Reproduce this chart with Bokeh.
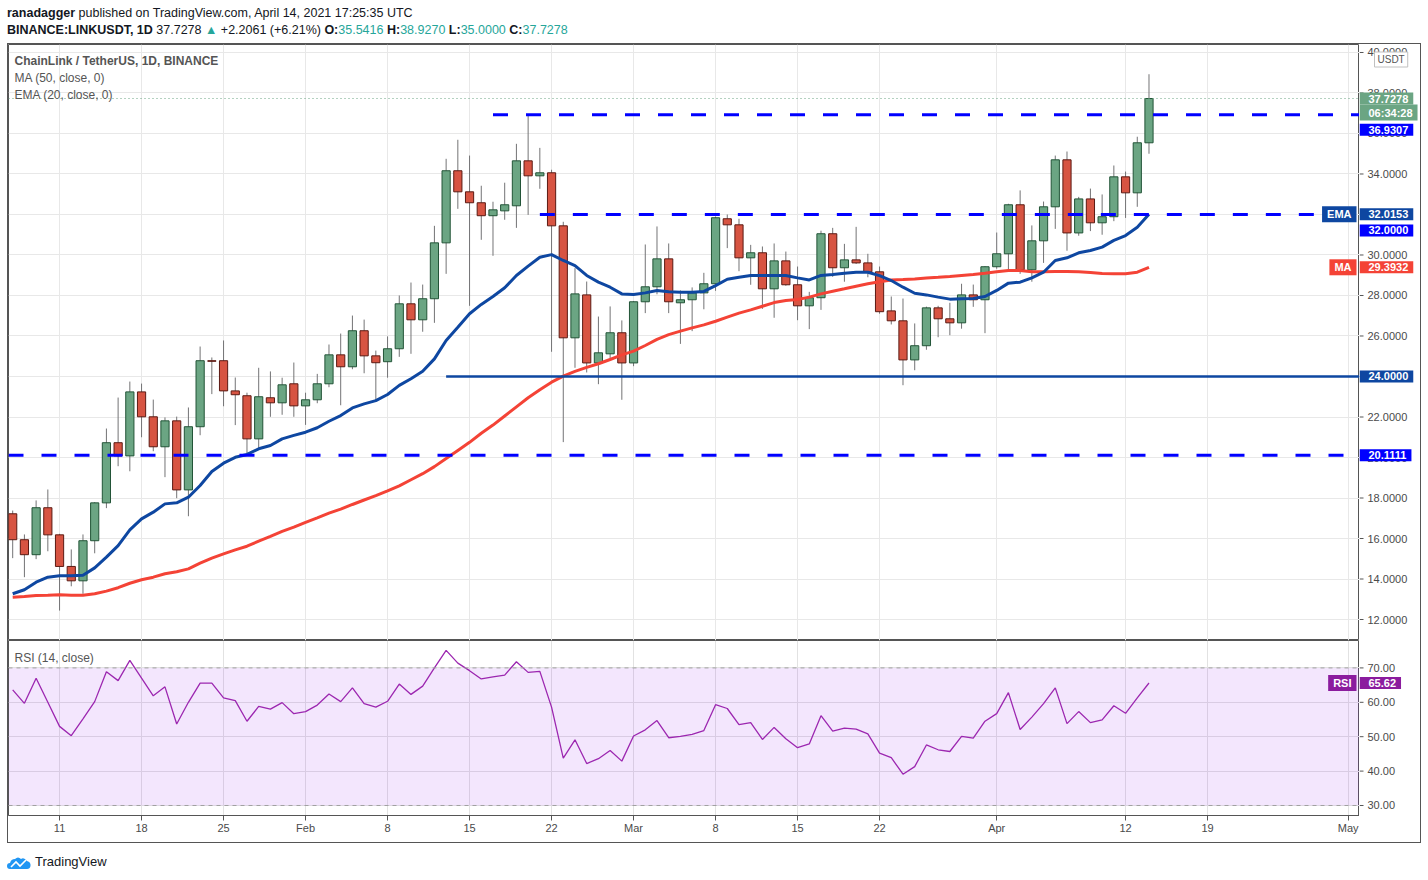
import pandas as pd
from bokeh.plotting import figure
from bokeh.models import (Range1d, FixedTicker, Span, Label,
                          BoxAnnotation, Div, ColumnDataSource, Grid)
from bokeh.layouts import column, row
from bokeh.core.properties import value
from bokeh.embed import file_html
from bokeh.resources import INLINE

# ---------------- data ----------------
start_date = "2021-01-07"
n_days = 98

opens = [17.22, 15.94, 15.20, 17.52, 16.18, 14.62, 13.91, 15.89, 17.76, 20.73,
         20.08, 23.24, 22.01, 20.53, 21.81, 18.40, 21.52, 24.78, 24.78, 23.29,
         23.05, 20.92, 22.95, 22.70, 23.64,
         22.55, 22.85, 23.64, 25.07, 24.48, 26.26, 25.02, 24.73, 25.37, 27.59,
         26.80, 27.84, 30.60, 34.16, 33.12, 32.58, 31.94, 32.18, 32.43, 34.65,
         33.91, 34.06, 31.44, 25.91, 28.03, 24.67, 25.12, 26.16,
         24.67, 27.69, 28.43, 29.81, 27.64, 27.79, 28.13, 28.58, 31.79, 31.49,
         29.86, 30.11, 28.33, 29.71, 28.53, 27.49, 27.89, 31.05, 29.37, 29.76,
         29.61, 29.17, 27.24, 26.75, 24.82, 25.52, 27.39, 26.85, 26.65, 28.03,
         27.79,
         29.42, 30.06, 32.48, 29.27, 30.70, 32.38, 34.70, 31.09, 32.77, 31.59,
         31.89, 33.86, 33.07, 35.5416]
highs = [17.38, 16.20, 17.88, 18.42, 16.23, 15.46, 16.20, 17.80, 21.43, 22.96,
         23.75, 23.65, 22.86, 21.98, 22.02, 22.47, 25.48, 24.94, 25.78, 23.95,
         23.20, 24.43, 24.25, 23.94, 24.69,
         23.20, 24.13, 25.58, 26.12, 27.01, 26.81, 25.28, 25.98, 28.00, 28.64,
         28.54, 31.44, 34.75, 35.69, 34.91, 33.42, 32.63, 33.57, 35.49, 36.92,
         35.29, 34.21, 31.64, 29.35, 28.69, 26.96, 27.46, 26.77,
         27.72, 30.52, 31.41, 30.57, 28.25, 28.40, 29.12, 31.90, 32.00, 31.79,
         30.50, 30.42, 30.57, 30.17, 29.43, 28.18, 31.20, 31.34, 30.55, 31.39,
         30.06, 29.43, 27.95, 27.85, 26.62, 27.45, 27.49, 27.64, 28.58, 28.54,
         29.45,
         31.11, 32.53, 33.19, 31.46, 32.64, 34.91, 35.11, 32.87, 33.28, 32.99,
         34.42, 34.12, 35.84, 38.9270]
lows = [15.03, 14.09, 14.98, 15.37, 12.44, 13.64, 13.27, 15.27, 17.50, 19.57,
        19.32, 21.00, 20.31, 19.03, 17.99, 17.10, 21.10, 23.13, 22.53, 21.60,
        20.18, 20.48, 22.01, 22.11, 22.01,
        21.61, 22.68, 23.47, 22.58, 24.36, 24.16, 22.80, 23.94, 24.97, 25.12,
        26.21, 26.65, 29.07, 32.28, 27.49, 30.75, 29.96, 31.74, 31.34, 31.98,
        33.27, 25.22, 20.76, 24.43, 24.20, 23.62, 24.82, 22.85,
        24.51, 27.13, 28.06, 27.13, 25.61, 26.24, 27.32, 28.23, 30.34, 29.20,
        28.53, 27.34, 26.90, 28.48, 26.78, 26.34, 27.29, 28.92, 28.68, 29.56,
        28.90, 27.10, 26.57, 23.57, 24.31, 25.32, 25.94, 26.04, 26.36, 27.44,
        26.14,
        29.32, 29.27, 29.07, 28.68, 29.61, 31.29, 30.21, 30.95, 31.18, 31.00,
        31.67, 31.83, 32.38, 35.0000]
closes = [15.94, 15.20, 17.52, 16.18, 14.62, 13.91, 15.89, 17.76, 20.73, 20.08,
          23.24, 22.01, 20.53, 21.81, 18.40, 21.52, 24.78, 24.75, 23.29, 23.10,
          20.92, 23.00, 22.70, 23.59, 22.55,
          22.85, 23.64, 25.07, 24.48, 26.26, 25.02, 24.68, 25.37, 27.59, 26.80,
          27.84, 30.60, 34.16, 33.12, 32.58, 31.94, 32.23, 32.48, 34.65, 33.91,
          34.06, 31.44, 25.91, 28.08, 24.67, 25.17, 26.16, 24.67,
          27.69, 28.43, 29.81, 27.69, 27.79, 28.13, 28.58, 31.84, 31.49, 29.86,
          30.11, 28.33, 29.71, 28.53, 27.49, 27.89, 31.05, 29.37, 29.76, 29.61,
          29.17, 27.20, 26.75, 24.82, 25.52, 27.39, 26.85, 26.65, 28.03, 27.79,
          29.42,
          30.06, 32.48, 29.27, 30.70, 32.38, 34.70, 31.09, 32.77, 31.59, 31.89,
          33.86, 33.07, 35.5416, 37.7278]

ema20 = [13.27, 13.47, 13.84, 14.09, 14.16, 14.16, 14.19, 14.55, 15.08, 15.65,
         16.43, 16.97, 17.30, 17.71, 17.76, 18.04, 18.62, 19.31, 19.72, 20.01,
         20.15, 20.43, 20.59, 20.92, 21.09,
         21.25, 21.47, 21.79, 22.07, 22.45, 22.65, 22.81, 23.11, 23.56, 23.89,
         24.26, 24.87, 25.78, 26.43, 27.10, 27.56, 27.95, 28.38, 28.99, 29.45,
         29.89, 30.02, 29.73, 29.48, 28.99, 28.66, 28.41, 28.08,
         28.05, 28.13, 28.25, 28.18, 28.16, 28.16, 28.20, 28.49, 28.80, 28.90,
         28.99, 28.99, 28.99, 28.99, 28.87, 28.77, 28.99, 29.04, 29.10, 29.15,
         29.15, 28.98, 28.74, 28.41, 28.11, 28.03, 27.92, 27.82, 27.84, 27.85,
         27.95,
         28.25, 28.61, 28.66, 28.87, 29.15, 29.73, 29.86, 30.11, 30.22, 30.39,
         30.72, 30.96, 31.37, 32.0153]
ma50 = [13.10, 13.14, 13.19, 13.20, 13.22, 13.20, 13.20, 13.27, 13.40, 13.57,
        13.79, 13.96, 14.09, 14.26, 14.36, 14.50, 14.78, 15.03, 15.24, 15.44,
        15.62, 15.87, 16.10, 16.35, 16.56,
        16.80, 17.02, 17.25, 17.45, 17.68, 17.90, 18.12, 18.35, 18.60, 18.90,
        19.20, 19.55, 19.95, 20.35, 20.75, 21.20, 21.60, 22.05, 22.50, 22.95,
        23.35, 23.72, 24.02, 24.25, 24.45, 24.63, 24.84, 25.07,
        25.25, 25.53, 25.83, 26.07, 26.24, 26.40, 26.55, 26.73, 26.93, 27.13,
        27.29, 27.47, 27.65, 27.75, 27.80, 27.92, 28.08, 28.21, 28.33, 28.46,
        28.58, 28.68, 28.77, 28.79, 28.82, 28.87, 28.90, 28.94, 28.99, 29.04,
        29.10,
        29.17, 29.23, 29.23, 29.17, 29.17, 29.19, 29.19, 29.17, 29.14, 29.09,
        29.07, 29.07, 29.15, 29.3932]
rsi14 = [63.6, 59.7, 67.0, 60.0, 53.0, 50.3, 55.2, 60.2, 68.9, 66.3,
         72.2, 67.0, 61.9, 64.5, 53.7, 60.0, 65.6, 65.6, 61.3, 60.5,
         54.5, 58.8, 58.0, 59.9, 56.7, 57.3, 59.2, 62.4, 60.2, 64.2,
         59.6, 58.6, 60.3, 65.3, 62.3, 64.7, 70.0, 75.1, 71.4, 69.2,
         66.8, 67.4, 67.9, 71.8, 68.7, 69.0, 58.6, 43.8, 49.1, 42.2,
         43.6, 46.0, 42.9, 50.2, 52.0, 54.7, 49.7, 50.1, 50.7, 51.8,
         59.3, 58.2, 53.5, 54.1, 49.2, 52.7, 49.4, 46.8, 47.9, 56.1,
         51.6, 52.5, 52.2, 50.8, 45.2, 43.9, 39.1, 41.3, 47.6, 46.2,
         45.7, 50.1, 49.6, 54.5, 56.7, 62.8, 52.1, 55.7, 59.6, 64.2,
         53.8, 57.3, 54.1, 54.9, 59.0, 56.8, 61.3, 65.62]

tick_dates = ["2021-01-11", "2021-01-18", "2021-01-25", "2021-02-01", "2021-02-08",
              "2021-02-15", "2021-02-22", "2021-03-01", "2021-03-08", "2021-03-15",
              "2021-03-22", "2021-04-01", "2021-04-12", "2021-04-19", "2021-05-01"]
tick_labels = ["11", "18", "25", "Feb", "8", "15", "22", "Mar", "8", "15",
               "22", "Apr", "12", "19", "May"]
price_ticks = [12, 14, 16, 18, 20, 22, 24, 26, 28, 30, 32, 34, 36, 38, 40]
rsi_ticks = [30, 40, 50, 60, 70]

dashed_levels = [36.9307, 32.0000, 20.1111]
dashed_from = ["2021-02-17", "2021-02-21", None]
support_level = 24.0000
support_from = "2021-02-13"
rsi_upper, rsi_lower = 70, 30
timer_text = "06:34:28"

# ---------------- helpers ----------------
FONT = "Liberation Sans"
PW, AW = 1351, 61          # plot-area width, price-scale width
MAIN_H, RSI_H, XAX_H = 596, 202, 27
d0 = pd.Timestamp(start_date)
dates = pd.date_range(start_date, periods=n_days, freq="D")
xs = [int((d - d0).days) for d in dates]
tick_x = [int((pd.Timestamp(t) - d0).days) for t in tick_dates]

UP, DN = "#6BA583", "#D75442"
UPL, DNL = "#225437", "#5B1A13"
EMA_C, MA_C, LVL_C, RSI_C, RSI_TAG = "#0E47A1", "#F44336", "#0000FF", "#9C27B0", "#8B1C9E"
AX_C, LBL_C, GRID_C = "#555555", "#4a4a4a", "#e8e8e8"

xr = Range1d(-0.358, 114.97)
yr = Range1d(10.963, 40.395)
ryr = Range1d(27.09, 77.97)


def set_grid(fig, dim, ticks, color):
    grids = fig.xgrid if dim == 0 else fig.ygrid
    if len(grids):
        for g in grids:
            g.ticker = FixedTicker(ticks=ticks)
            g.grid_line_color = color
    else:
        fig.add_layout(Grid(dimension=dim, ticker=FixedTicker(ticks=ticks), grid_line_color=color))


def base_fig(w, h, x_range, y_range, **kw):
    f = figure(width=w, height=h, x_range=x_range, y_range=y_range,
               output_backend="svg", toolbar_location=None, tools="",
               min_border_left=0, min_border_right=0, min_border_top=0, min_border_bottom=0, **kw)
    f.background_fill_color = "white"
    f.border_fill_color = "white"
    return f


def legend_text(fig, text, yoff, bold=False, size="12px"):
    fig.add_layout(Label(x=fig.x_range.start, y=fig.y_range.end, x_offset=6, y_offset=yoff,
                         text=text, text_baseline="middle", text_align="left",
                         text_font=FONT, text_font_size=size,
                         text_font_style="bold" if bold else "normal",
                         text_color=AX_C, level="overlay"))


NAME_PAD = dict(left=5, right=5, top=2, bottom=2)
VAL_PAD = dict(left=9, right=5, top=2, bottom=2)


def tag(fig, x, y, text, bg, align="left", x_off=0, y_off=0, color="white",
        bold=True, size="11px", border=None, pad=VAL_PAD):
    fig.add_layout(Label(x=x, y=y, text=text, x_offset=x_off, y_offset=y_off,
                         text_align=align, text_baseline="middle",
                         text_font=FONT, text_font_size=size,
                         text_font_style="bold" if bold else "normal",
                         text_color=color, background_fill_color=bg,
                         border_line_color=border, padding=pad, level="overlay"))


def price_scale(fig, ticks, fmt, label_x):
    for g in list(fig.xgrid) + list(fig.ygrid):
        g.visible = False
    fig.outline_line_color = None
    fig.segment(x0=[0] * len(ticks), y0=ticks, x1=[4] * len(ticks), y1=ticks,
                line_color=AX_C, line_width=1)
    fig.text(x=[label_x] * len(ticks), y=ticks, text=[fmt.format(t) for t in ticks],
             text_font=value(FONT), text_font_size="11px", text_color=LBL_C,
             text_baseline="middle", text_align="left")


fmt4 = "{:.4f}".format

# ---------------- main price panel ----------------
p = base_fig(PW, MAIN_H, xr, yr, x_axis_location=None, y_axis_location=None)
p.outline_line_color = AX_C
set_grid(p, 0, tick_x, GRID_C)
set_grid(p, 1, price_ticks, GRID_C)

is_up = [c >= o for o, c in zip(opens, closes)]
src = ColumnDataSource(dict(
    x=xs, o=opens, h=highs, l=lows, c=closes,
    top=[max(o, c) for o, c in zip(opens, closes)],
    bottom=[min(o, c) for o, c in zip(opens, closes)],
    fill=[UP if u else DN for u in is_up],
    edge=[UPL if u else DNL for u in is_up],
))
p.segment(x0="x", y0="l", x1="x", y1="h", source=src, line_color="#737375", line_width=1)
p.vbar(x="x", width=0.7, top="top", bottom="bottom", fill_color="fill",
       line_color="edge", line_width=1, source=src)

p.line(xs, ma50, line_color=MA_C, line_width=3)
p.line(xs, ema20, line_color=EMA_C, line_width=3)

lvl_x0 = [xr.start if d is None else int((pd.Timestamp(d) - d0).days) for d in dashed_from]
p.segment(x0=lvl_x0, y0=dashed_levels, x1=[xr.end] * len(dashed_levels), y1=dashed_levels,
          line_color=LVL_C, line_width=3, line_dash="15 18")
sup_x0 = int((pd.Timestamp(support_from) - d0).days)
p.segment(x0=[sup_x0], y0=[support_level], x1=[xr.end], y1=[support_level],
          line_color=EMA_C, line_width=2.5)
p.add_layout(Span(location=closes[-1], dimension="width", line_color=UP,
                  line_dash="1 3", line_width=1))

legend_text(p, "ChainLink / TetherUS, 1D, BINANCE", -16, bold=True)
legend_text(p, "MA (50, close, 0)", -33)
legend_text(p, "EMA (20, close, 0)", -50)
tag(p, xr.end, ema20[-1], "EMA", EMA_C, align="right", x_off=-3, pad=NAME_PAD)
tag(p, xr.end, ma50[-1], "MA", MA_C, align="right", x_off=-3, pad=NAME_PAD)

# price scale column
ax1 = base_fig(AW, MAIN_H, Range1d(0, AW), yr, x_axis_location=None, y_axis_location=None)
price_scale(ax1, price_ticks, "{:.4f}", 8)
tag(ax1, 0, yr.end, "USDT", "white", x_off=15, y_off=-15, color=AX_C,
    bold=False, size="10px", border="#c0c0c0", pad=dict(left=3, right=3, top=2, bottom=2))
tag(ax1, 0, closes[-1], fmt4(closes[-1]), UP)
tag(ax1, 0, closes[-1], timer_text, UP, y_off=-14)
tag(ax1, 0, dashed_levels[0], fmt4(dashed_levels[0]), LVL_C, y_off=-15)
tag(ax1, 0, ema20[-1], fmt4(ema20[-1]), EMA_C)
tag(ax1, 0, dashed_levels[1], fmt4(dashed_levels[1]), LVL_C, y_off=-16)
tag(ax1, 0, ma50[-1], fmt4(ma50[-1]), MA_C)
tag(ax1, 0, support_level, fmt4(support_level), EMA_C)
tag(ax1, 0, dashed_levels[2], fmt4(dashed_levels[2]), LVL_C)

# ---------------- RSI panel ----------------
r = base_fig(PW, RSI_H, xr, ryr, y_axis_location=None)
r.min_border_bottom = XAX_H
r.outline_line_color = AX_C
xa = r.xaxis[0]
xa.ticker = FixedTicker(ticks=tick_x)
xa.major_label_overrides = {t: lab for t, lab in zip(tick_x, tick_labels)}
xa.major_tick_out = 5
xa.major_tick_in = 0
xa.minor_tick_out = 0
xa.minor_tick_in = 0
xa.major_label_standoff = 1
xa.axis_line_color = AX_C
xa.major_tick_line_color = AX_C
xa.major_label_text_font = FONT
xa.major_label_text_font_size = "11px"
xa.major_label_text_color = LBL_C
set_grid(r, 0, tick_x, "#e2e2e2")
set_grid(r, 1, rsi_ticks, "#e2e2e2")

r.add_layout(BoxAnnotation(bottom=rsi_lower, top=rsi_upper, fill_color="#8705EB", fill_alpha=0.1,
                           line_color=None, level="underlay"))
for lv in (rsi_upper, rsi_lower):
    r.add_layout(Span(location=lv, dimension="width", line_color="#a0a0a0",
                      line_dash="4 4", line_width=1))
r.line(xs, rsi14, line_color=RSI_C, line_width=1.3)
legend_text(r, "RSI (14, close)", -17)
tag(r, xr.end, rsi14[-1], "RSI", RSI_TAG, align="right", x_off=-3, pad=NAME_PAD)

# RSI scale column
ax2 = base_fig(AW, RSI_H, Range1d(0, AW), ryr, x_axis_location=None, y_axis_location=None)
ax2.min_border_bottom = XAX_H
price_scale(ax2, rsi_ticks, "{:.2f}", 8)
tag(ax2, 0, rsi14[-1], "{:.2f}".format(rsi14[-1]), RSI_TAG)

# ---------------- header / footer ----------------
TEAL = "#26a69a"
header = Div(width=PW + AW + 2, height=36, margin=(0, 0, 0, 0), text=(
    "<div style=\"font-family:'Liberation Sans',sans-serif;font-size:12.5px;color:#131722;"
    "line-height:17px;margin-top:-2px;white-space:nowrap\">"
    "<div><b>ranadagger</b> published on TradingView.com, April 14, 2021 17:25:35 UTC</div>"
    "<div><b>BINANCE:LINKUSDT, 1D</b> 37.7278 "
    f"<span style='color:{TEAL}'>&#9650;</span> +2.2061 (+6.21%) "
    f"<b>O:</b><span style='color:{TEAL}'>35.5416</span> "
    f"<b>H:</b><span style='color:{TEAL}'>38.9270</span> "
    f"<b>L:</b><span style='color:{TEAL}'>35.0000</span> "
    f"<b>C:</b><span style='color:{TEAL}'>37.7278</span></div></div>"))

footer = Div(width=PW + AW + 2, height=28, margin=(0, 0, 0, 0), text=(
    "<div style=\"display:flex;align-items:center;margin-top:10px;font-family:'Liberation Sans',"
    "sans-serif;font-size:13px;color:#131722\">"
    "<svg width='24' height='15' viewBox='0 0 24 15'>"
    "<path d='M3 14 Q0 14 0 11 Q0 8 3 8 Q4 4 8 4 Q11 1 14 4 Q17 2 20 6 Q24 7 23.5 11 "
    "Q23 14 20 14 Z' fill='#2196F3'/>"
    "<polyline points='4,12 9,7 13,11 19,5' fill='none' stroke='white' stroke-width='1.6'/>"
    "</svg><span style='margin-left:4px'>TradingView</span></div>"))

chart = column(row(p, ax1), row(r, ax2), styles={"border": "1px solid #555555"})
layout = column(header, chart, footer, margin=(7, 0, 0, 7))

open("out.html", "w").write(file_html(layout, INLINE))
